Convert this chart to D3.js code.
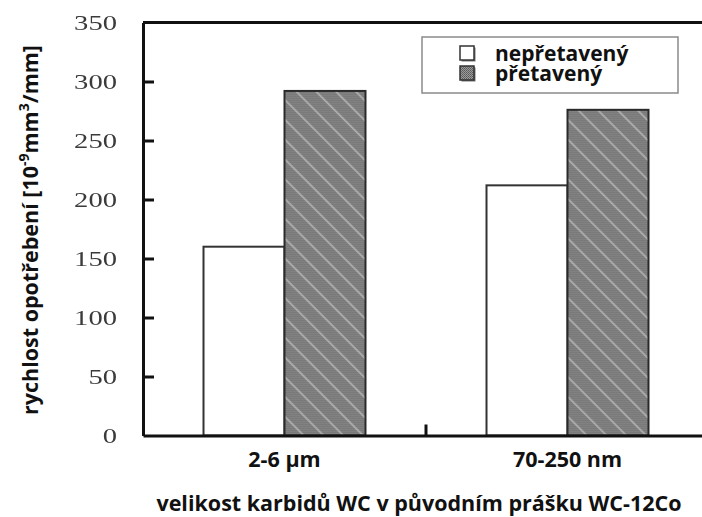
<!DOCTYPE html>
<html>
<head>
<meta charset="utf-8">
<script src="https://cdn.jsdelivr.net/npm/d3@7"></script>
<style>
  html, body { margin: 0; padding: 0; background: #fff; }
  svg { display: block; }
</style>
</head>
<body>
<div id="chart"></div>
<script>
// Wear rate of WC-12Co coatings by carbide size, as-sprayed vs. remelted
const categories = ["2-6 µm", "70-250 nm"];
const seriesNames = ["nepřetavený", "přetavený"];
const asSprayed = [160, 212];
const remelted = [292, 276];
const yTicks = [0, 50, 100, 150, 200, 250, 300, 350];
const yInnerTicks = [50, 100, 150, 200, 250, 300];

const W = 702, H = 517;
const margin = { left: 143, top: 22.5, bottom: 435.5, right: 709 };
const sansBold = "'Open Sans', 'Liberation Sans', sans-serif";

const svg = d3.select("#chart").append("svg")
  .attr("width", W).attr("height", H);

const defs = svg.append("defs");

// Soft edge for the serif tick numbers
defs.append("filter").attr("id", "soft")
  .append("feGaussianBlur").attr("stdDeviation", 0.55);

// Dotted grey fill with light diagonal streaks
const pat = defs.append("pattern")
  .attr("id", "hatch")
  .attr("patternUnits", "userSpaceOnUse")
  .attr("width", 2).attr("height", 2);
pat.append("rect").attr("width", 2).attr("height", 2).attr("fill", "#9c9c9c");
pat.append("rect").attr("width", 1).attr("height", 1).attr("fill", "#585858");
pat.append("rect").attr("x", 1).attr("y", 1).attr("width", 1).attr("height", 1).attr("fill", "#666");

const streak = defs.append("pattern")
  .attr("id", "streak")
  .attr("patternUnits", "userSpaceOnUse")
  .attr("width", 14).attr("height", 14)
  .attr("patternTransform", "rotate(-45)");
streak.append("rect").attr("x", 0).attr("y", 0).attr("width", 1.8).attr("height", 14)
  .attr("fill", "#e8e8e8").attr("opacity", 0.45);

const x0 = d3.scaleBand()
  .domain(categories)
  .range([margin.left, margin.right])
  .paddingInner(0.4276)
  .paddingOuter(0.2138);

const x1 = d3.scaleBand()
  .domain(seriesNames)
  .range([0, x0.bandwidth()]);

const y = d3.scaleLinear()
  .domain([0, 350])
  .range([margin.bottom, margin.top]);

// Bars
const data = categories.map((c, i) => ({ cat: c, values: [asSprayed[i], remelted[i]] }));

const groups = svg.append("g").selectAll("g")
  .data(data).join("g")
  .attr("transform", d => `translate(${x0(d.cat)},0)`);

groups.selectAll("g.bar")
  .data(d => d.values.map((v, j) => ({ name: seriesNames[j], v, j })))
  .join("g").attr("class", "bar")
  .each(function (d) {
    const g = d3.select(this);
    const bx = x1(d.name), bw = x1.bandwidth();
    const by = y(d.v), bh = y(0) - y(d.v);
    if (d.j === 0) {
      g.append("rect").attr("x", bx).attr("y", by).attr("width", bw).attr("height", bh)
        .attr("fill", "#fff").attr("stroke", "#333").attr("stroke-width", 2);
    } else {
      g.append("rect").attr("x", bx).attr("y", by).attr("width", bw).attr("height", bh)
        .attr("fill", "url(#hatch)");
      g.append("rect").attr("x", bx).attr("y", by).attr("width", bw).attr("height", bh)
        .attr("fill", "url(#streak)");
      g.append("rect").attr("x", bx).attr("y", by).attr("width", bw).attr("height", bh)
        .attr("fill", "none").attr("stroke", "#2a2a2a").attr("stroke-width", 2);
    }
  });

// Frame: top line
svg.append("line")
  .attr("x1", margin.left).attr("x2", margin.right)
  .attr("y1", margin.top).attr("y2", margin.top)
  .attr("stroke", "#111").attr("stroke-width", 3);

// Left axis: labels
const yg = svg.append("g")
  .attr("transform", `translate(${margin.left},0)`)
  .call(d3.axisLeft(y)
    .tickValues(yTicks)
    .tickSize(0)
    .tickPadding(26)
    .tickFormat(d3.format("d")));
yg.select(".domain").attr("stroke", "#111").attr("stroke-width", 3);
yg.selectAll(".tick text")
  .attr("font-family", "'Liberation Serif', 'Times New Roman', serif")
  .attr("font-size", 22)
  .attr("fill", "#3a3a3a")
  .attr("textLength", d => String(d).length * 14.3)
  .attr("lengthAdjust", "spacingAndGlyphs")
  .attr("filter", "url(#soft)");

// Left axis: inward tick marks
const tg = svg.append("g")
  .attr("transform", `translate(${margin.left},0)`)
  .call(d3.axisRight(y).tickValues(yInnerTicks).tickSize(11).tickFormat(() => ""));
tg.select(".domain").remove();
tg.selectAll(".tick line").attr("stroke", "#111").attr("stroke-width", 3);

// Bottom axis with a single divider tick between the groups
const boundary = (x0(categories[0]) + x0.bandwidth() + x0(categories[1])) / 2;
const xg = svg.append("g")
  .attr("transform", `translate(0,${margin.bottom})`)
  .call(d3.axisBottom(x0).tickSize(0).tickPadding(16).tickSizeOuter(0));
xg.select(".domain").attr("stroke", "#111").attr("stroke-width", 3);
xg.selectAll(".tick text")
  .attr("font-family", sansBold)
  .attr("font-weight", "bold")
  .attr("font-size", 21.5)
  .attr("fill", "#111");
xg.append("line")
  .attr("x1", boundary).attr("x2", boundary)
  .attr("y1", 0).attr("y2", -11)
  .attr("stroke", "#111").attr("stroke-width", 3);

// Axis titles
svg.append("text")
  .attr("x", 419)
  .attr("y", 511)
  .attr("text-anchor", "middle")
  .attr("font-family", sansBold)
  .attr("font-weight", "bold")
  .attr("font-size", 21.5)
  .attr("fill", "#111")
  .text("velikost karbidů WC v původním prášku WC-12Co");

const yt = svg.append("text")
  .attr("transform", `translate(38,230) rotate(-90)`)
  .attr("text-anchor", "middle")
  .attr("font-family", sansBold)
  .attr("font-weight", "bold")
  .attr("font-size", 21.5)
  .attr("fill", "#111");
yt.append("tspan").text("rychlost opotřebení [10");
yt.append("tspan").attr("dy", -9).attr("font-size", 14).text("-9");
yt.append("tspan").attr("dy", 9).text("mm");
yt.append("tspan").attr("dy", -9).attr("font-size", 14).text("3");
yt.append("tspan").attr("dy", 9).text("/mm]");

// Legend
const lg = svg.append("g").attr("transform", "translate(422,37)");
lg.append("rect").attr("width", 256).attr("height", 56)
  .attr("fill", "#fff").attr("stroke", "#8a8a8a").attr("stroke-width", 1.5);
const rows = lg.selectAll("g.row").data(seriesNames).join("g")
  .attr("class", "row")
  .attr("transform", (d, i) => `translate(38,${9 + i * 20})`);
rows.append("rect")
  .attr("x", 1.5).attr("y", 1.5).attr("width", 14).attr("height", 14)
  .attr("fill", "#777");
rows.append("rect")
  .attr("width", 14).attr("height", 14)
  .attr("fill", (d, i) => i === 0 ? "#fff" : "url(#hatch)")
  .attr("stroke", "#333").attr("stroke-width", 1.5);
rows.append("text")
  .attr("x", 35).attr("y", 15)
  .attr("font-family", sansBold)
  .attr("font-weight", "bold")
  .attr("font-size", 21)
  .attr("fill", "#111")
  .text(d => d);
</script>
</body>
</html>
